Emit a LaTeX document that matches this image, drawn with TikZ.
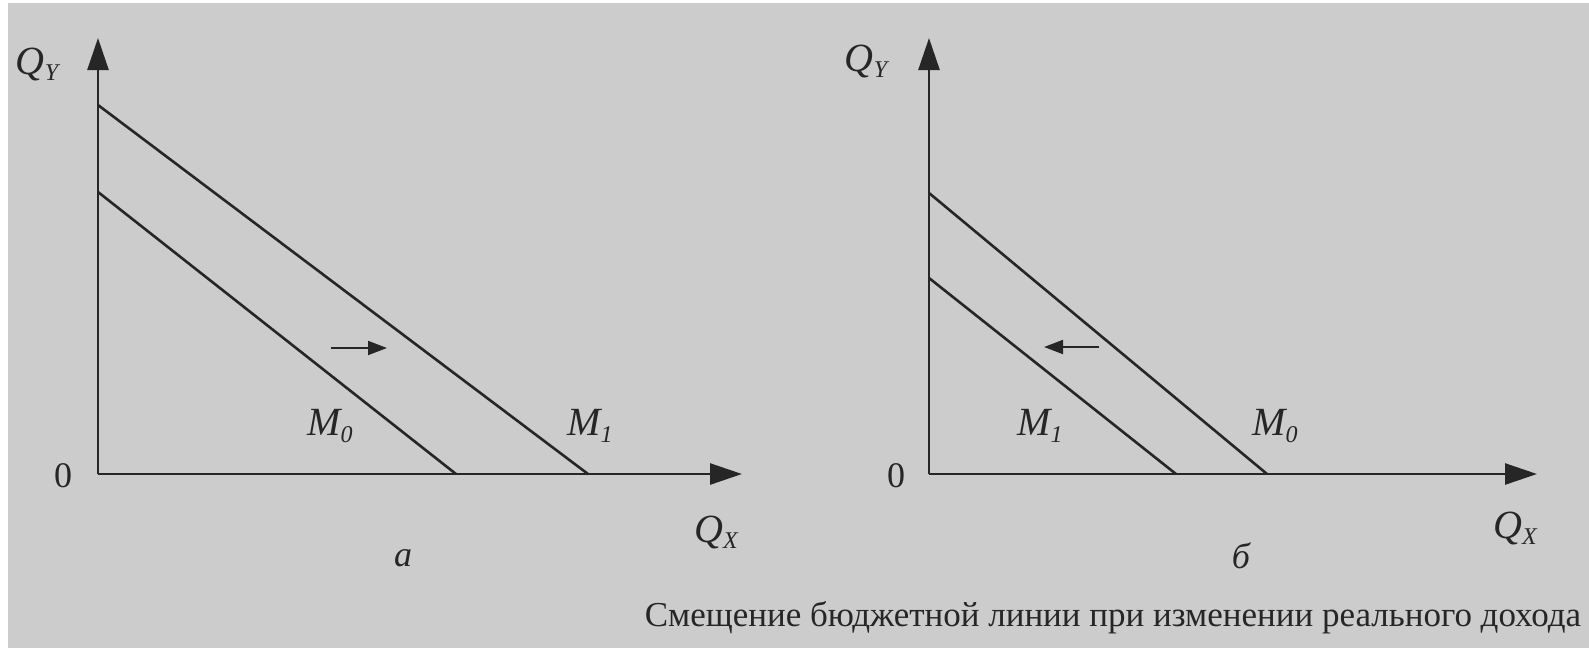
\documentclass[tikz,border=0pt]{standalone}
\usepackage{fontspec}
\setmainfont{Liberation Serif}
\usetikzlibrary{arrows.meta}
\definecolor{bg}{RGB}{204,204,204}
\definecolor{ink}{RGB}{38,38,38}
\newcommand\lsub[1]{\raisebox{-0.35ex}{\fontsize{24}{24}\selectfont #1}}
\begin{document}
\begin{tikzpicture}[x=1pt,y=-1pt,
  axis/.style={draw=ink,line width=2.6pt,-{Triangle[width=21pt,length=32pt]}},
  budget/.style={draw=ink,line width=2.6pt},
  shiftarrow/.style={draw=ink,line width=1.8pt,-{Triangle[width=14pt,length=19pt]}},
  lab/.style={text=ink,font=\fontsize{40}{40}\selectfont\itshape,inner sep=0pt},
  zero/.style={text=ink,font=\fontsize{36}{36}\selectfont,inner sep=0pt},
  panel/.style={text=ink,font=\fontsize{36}{36}\selectfont\itshape,inner sep=0pt},
  caption/.style={text=ink,font=\fontsize{35}{35}\selectfont,inner sep=0pt}]
\useasboundingbox (0,0) rectangle (1589,648);
\fill[white] (0,0) rectangle (1589,648);
\fill[bg] (8,3) rectangle (1589,648);

% ---- left panel (a)
\coordinate (oa) at (98,474);
\coordinate (ya) at (98,38);
\coordinate (xa) at (742,474);
\coordinate (a1y) at (98,105);
\coordinate (a1x) at (588,474);
\coordinate (a0y) at (98,192);
\coordinate (a0x) at (456,474);
\coordinate (sa1) at (331,348);
\coordinate (sa2) at (387,348);
\draw[axis] (oa) -- (ya);
\draw[axis] (oa) -- (xa);
\draw[budget] (a1y) -- (a1x);
\draw[budget] (a0y) -- (a0x);
\draw[shiftarrow] (sa1) -- (sa2);
\node[lab] (qya) at (37,64) {Q\lsub{Y}};
\node[lab] (qxa) at (716,532) {Q\lsub{X}};
\node[zero] (za) at (63,476) {0};
\node[lab] (m0a) at (330,426) {M\lsub{0}};
\node[lab] (m1a) at (590,426) {M\lsub{1}};
\node[panel] (pa) at (403,558) {а};

% ---- right panel (б)
\coordinate (ob) at (929,474);
\coordinate (yb) at (929,38);
\coordinate (xb) at (1537,474);
\coordinate (b0y) at (929,193);
\coordinate (b0x) at (1267,474);
\coordinate (b1y) at (929,278);
\coordinate (b1x) at (1176,474);
\coordinate (sb1) at (1099,347);
\coordinate (sb2) at (1044,347);
\draw[axis] (ob) -- (yb);
\draw[axis] (ob) -- (xb);
\draw[budget] (b0y) -- (b0x);
\draw[budget] (b1y) -- (b1x);
\draw[shiftarrow] (sb1) -- (sb2);
\node[lab] (qyb) at (866,61) {Q\lsub{Y}};
\node[lab] (qxb) at (1515,528) {Q\lsub{X}};
\node[zero] (zb) at (896,476) {0};
\node[lab] (m1b) at (1040,426) {M\lsub{1}};
\node[lab] (m0b) at (1275,426) {M\lsub{0}};
\node[panel] (pb) at (1241,556) {б};

% ---- caption
\node[caption] (cap) at (1113,618) {Смещение бюджетной линии при изменении реального дохода};
\end{tikzpicture}
\end{document}
